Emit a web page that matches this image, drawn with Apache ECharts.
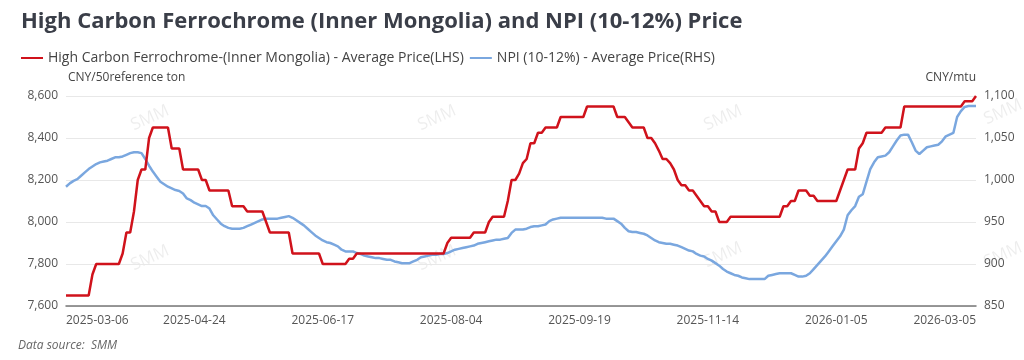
<!DOCTYPE html>
<html>
<head>
<meta charset="utf-8">
<script src="https://cdn.jsdelivr.net/npm/echarts@6/dist/echarts.min.js"></script>
<style>
html,body{margin:0;padding:0;background:#fff;}
#chart{width:1024px;height:360px;}
</style>
</head>
<body>
<div id="chart"></div>
<script>
// ---- categories: trading days 2025-03-06 .. 2026-03-05 ----
const startDate = '2025-03-06';
const endDate = '2026-03-05';
const holidays = ['2025-04-04','2025-05-01','2025-05-02','2025-05-05','2025-06-02',
  '2025-10-01','2025-10-02','2025-10-03','2025-10-06','2025-10-07','2025-10-08',
  '2026-01-01','2026-01-02','2026-02-16','2026-02-17','2026-02-18','2026-02-19','2026-02-20','2026-02-23'];

// ---- series values ----
const ferrochrome = [
  7650,7650,7650,7650,7650,7650,7650,7750,7800,7800,
  7800,7800,7800,7800,7800,7850,7950,7950,8050,8200,
  8250,8250,8400,8450,8450,8450,8450,8450,8350,8350,
  8350,8250,8250,8250,8250,8250,8200,8200,8150,8150,
  8150,8150,8150,8150,8075,8075,8075,8075,8050,8050,
  8050,8050,8050,8000,7950,7950,7950,7950,7950,7950,
  7850,7850,7850,7850,7850,7850,7850,7850,7800,7800,
  7800,7800,7800,7800,7800,7825,7825,7850,7850,7850,
  7850,7850,7850,7850,7850,7850,7850,7850,7850,7850,
  7850,7850,7850,7850,7850,7850,7850,7850,7850,7850,
  7850,7900,7925,7925,7925,7925,7925,7925,7950,7950,
  7950,7950,8000,8025,8025,8025,8025,8100,8200,8200,
  8230,8280,8300,8375,8375,8425,8425,8450,8450,8450,
  8450,8500,8500,8500,8500,8500,8500,8500,8550,8550,
  8550,8550,8550,8550,8550,8550,8500,8500,8500,8475,
  8450,8450,8450,8450,8400,8400,8375,8340,8300,8300,
  8280,8250,8200,8175,8175,8150,8150,8125,8100,8075,
  8075,8050,8050,8000,8000,8000,8025,8025,8025,8025,
  8025,8025,8025,8025,8025,8025,8025,8025,8025,8025,
  8075,8075,8100,8100,8150,8150,8150,8125,8125,8100,
  8100,8100,8100,8100,8100,8150,8200,8250,8250,8250,
  8350,8375,8425,8425,8425,8425,8425,8450,8450,8450,
  8450,8450,8550,8550,8550,8550,8550,8550,8550,8550,
  8550,8550,8550,8550,8550,8550,8550,8550,8575,8575,
  8575,8600
];
const npi = [
  992,996,999,1001,1005,1009,1013,1016,1019,1021,
  1022,1023,1025,1027,1027,1028,1030,1032,1033,1033,
  1032,1025,1017,1010,1004,998,995,992,990,988,
  987,984,978,976,973,971,969,969,966,958,
  953,948,945,943,942,942,942,943,945,947,
  949,951,953,954,954,954,954,955,956,957,
  955,952,949,946,942,938,934,931,928,926,
  925,923,921,917,915,915,915,913,912,910,
  909,908,907,907,906,905,905,903,902,901,
  901,901,903,905,908,909,910,911,911,912,
  912,913,915,917,918,919,920,921,922,924,
  925,926,927,928,929,929,930,931,937,941,
  941,941,942,944,945,945,946,947,951,953,
  954,955,955,955,955,955,955,955,955,955,
  955,955,955,954,954,954,951,948,943,939,
  938,938,937,936,934,931,928,926,925,924,
  924,923,922,920,918,916,915,912,910,909,
  906,904,901,898,894,891,889,887,886,884,
  883,882,882,882,882,882,886,887,888,889,
  889,889,889,887,885,885,886,889,894,899,
  904,909,915,921,927,933,941,958,964,969,
  980,983,998,1013,1021,1027,1028,1029,1033,1040,
  1047,1053,1054,1054,1045,1035,1031,1035,1039,1040,
  1041,1042,1046,1052,1054,1056,1075,1082,1087,1088,
  1088,1088
];

// ---- axis ticks ----
const leftTicks = [7600, 7800, 8000, 8200, 8400, 8600];
const rightTicks = [850, 900, 950, 1000, 1050, 1100];

// ---- texts ----
const titleText = 'High Carbon Ferrochrome (Inner Mongolia) and NPI (10-12%) Price';
const seriesNames = ['High Carbon Ferrochrome-(Inner Mongolia) - Average Price(LHS)', 'NPI (10-12%) - Average Price(RHS)'];
const leftUnit = 'CNY/50reference ton';
const rightUnit = 'CNY/mtu';
const sourceText = 'Data source:  SMM';

function buildDates(s, e, hol) {
  const out = [];
  const hs = new Set(hol);
  const d = new Date(s + 'T00:00:00Z');
  const end = new Date(e + 'T00:00:00Z');
  while (d <= end) {
    const wd = d.getUTCDay();
    const str = d.toISOString().slice(0, 10);
    if (wd !== 0 && wd !== 6 && !hs.has(str)) out.push(str);
    d.setUTCDate(d.getUTCDate() + 1);
  }
  return out;
}
const dates = buildDates(startDate, endDate, holidays);
const lastIdx = dates.length - 1;

const fontFam = '"Open Sans", "Noto Sans", sans-serif';
const fmt = v => v.toLocaleString('en-US');

const watermarks = [];
[[150,118],[437,118],[723,118],[1003,112],[150,258],[437,258],[723,255],[1003,255]].forEach(p => {
  watermarks.push({
    type: 'text', x: p[0], y: p[1], rotation: 0.42, z: 0, silent: true,
    style: { text: 'SMM', fill: 'rgba(0,0,0,0.07)', font: '17px ' + fontFam, align: 'center', verticalAlign: 'middle' }
  });
});

const chart = echarts.init(document.getElementById('chart'));
chart.setOption({
  animation: false,
  backgroundColor: '#fff',
  title: {
    text: titleText, left: 16, top: 6,
    textStyle: { fontSize: 22, fontWeight: 'bold', color: '#3a3e48', fontFamily: fontFam }
  },
  legend: {
    left: 16, top: 46, itemGap: 6, itemWidth: 22, itemHeight: 2, icon: 'rect',
    textStyle: { fontSize: 14, color: '#444', fontFamily: fontFam },
    data: seriesNames
  },
  graphic: watermarks.concat([{
    type: 'text', left: 18, top: 340,
    style: { text: sourceText, fill: '#666', font: 'italic 12px ' + fontFam }
  }]),
  grid: { left: 66, right: 48, top: 96, bottom: 54, containLabel: false },
  xAxis: {
    type: 'category', data: dates, boundaryGap: false,
    axisLine: { lineStyle: { color: '#777', width: 1.5 } },
    axisTick: { show: false },
    axisLabel: {
      color: '#555', fontSize: 12, fontFamily: fontFam, margin: 9,
      interval: (i) => (i % 34 === 0 && i <= 204) || i === lastIdx,
      alignMinLabel: 'left', alignMaxLabel: 'right'
    },
    splitLine: { show: false }
  },
  yAxis: [{
    type: 'value', min: leftTicks[0], max: leftTicks[leftTicks.length - 1], interval: 200,
    name: leftUnit, nameLocation: 'end', nameGap: 12,
    nameTextStyle: { color: '#444', fontSize: 12, fontFamily: fontFam, align: 'left', padding: [0, 0, 0, 2] },
    axisLine: { show: false }, axisTick: { show: false },
    axisLabel: { color: '#555', fontSize: 12, fontFamily: fontFam, formatter: fmt, margin: 8 },
    splitLine: { lineStyle: { color: '#e8e8e8', width: 1 } }
  }, {
    type: 'value', min: rightTicks[0], max: rightTicks[rightTicks.length - 1], interval: 50,
    name: rightUnit, nameLocation: 'end', nameGap: 12,
    nameTextStyle: { color: '#444', fontSize: 12, fontFamily: fontFam, align: 'right' },
    axisLine: { show: false }, axisTick: { show: false },
    axisLabel: { color: '#555', fontSize: 12, fontFamily: fontFam, formatter: fmt, margin: 8 },
    splitLine: { show: false }
  }],
  series: [{
    name: seriesNames[0], type: 'line', yAxisIndex: 0, data: ferrochrome,
    showSymbol: false, symbol: 'none', z: 3,
    lineStyle: { color: '#d0121b', width: 2.5 }, itemStyle: { color: '#d0121b' }
  }, {
    name: seriesNames[1], type: 'line', yAxisIndex: 1, data: npi,
    showSymbol: false, symbol: 'none', z: 2,
    lineStyle: { color: '#7aa7df', width: 2.5 }, itemStyle: { color: '#7aa7df' }
  }]
});
</script>
</body>
</html>
